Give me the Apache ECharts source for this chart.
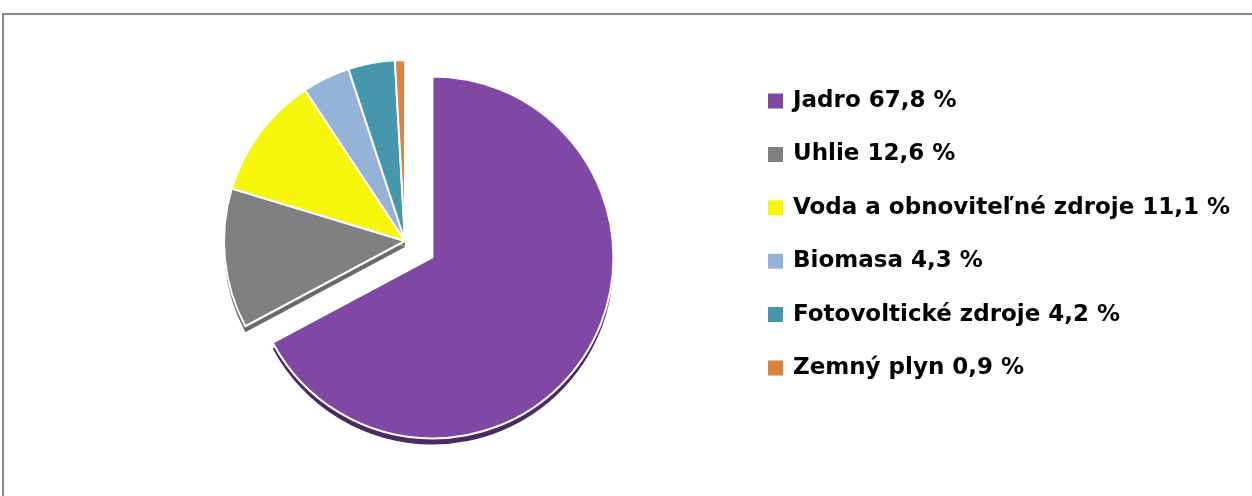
<!DOCTYPE html>
<html>
<head>
<meta charset="utf-8">
<script src="https://cdn.jsdelivr.net/npm/echarts@6/dist/echarts.min.js"></script>
<style>
  html, body { margin: 0; padding: 0; background: #fff; }
  #chart { width: 1252px; height: 496px; }
</style>
</head>
<body>
<div id="chart"></div>
<script>
const categories = ['Jadro', 'Uhlie', 'Voda a obnoviteľné zdroje', 'Biomasa', 'Fotovoltické zdroje', 'Zemný plyn'];
const shares = [67.8, 12.6, 11.1, 4.3, 4.2, 0.9];
const topColors = ['#7f48a5', '#808080', '#f6f60b', '#95b2d7', '#4597ae', '#db833f'];
const sideColors = ['#4b2a63', '#6a6a6a', '#9c9c00', '#3f4a5a', '#2c5f6e', '#8a4f24'];

const fmt = (v) => v.toFixed(1).replace('.', ',') + ' %';
const labels = categories.map((c, i) => c + ' ' + fmt(shares[i]));

const buildData = (colors) =>
  shares.map((v, i) => ({
    name: labels[i],
    value: v,
    selected: i === 0,
    itemStyle: { color: colors[i] },
  }));

const chart = echarts.init(document.getElementById('chart'));
const pieBase = {
  type: 'pie',
  radius: 181,
  startAngle: 90,
  clockwise: true,
  selectedMode: 'multiple',
  selectedOffset: 32,
  label: { show: false },
  labelLine: { show: false },
  animation: false,
  emphasis: { disabled: true },
};

chart.setOption({
  graphic: [
    {
      type: 'rect',
      shape: { x: 3, y: 14, width: 1400, height: 700 },
      style: { fill: 'none', stroke: '#888', lineWidth: 2 },
      silent: true,
    },
  ],
  legend: {
    orient: 'vertical',
    left: 766,
    top: 89,
    padding: 0,
    icon: 'rect',
    itemWidth: 17,
    itemHeight: 17,
    itemGap: 29.4,
    data: labels,
    selectedMode: false,
    textStyle: {
      fontFamily: 'DejaVu Sans',
      fontWeight: 'bold',
      fontSize: 23,
      lineHeight: 24,
      color: '#000',
      padding: [0, 0, 0, 4],
    },
  },
  series: [
    {
      ...pieBase,
      name: 'main',
      z: 3,
      center: [405, 241],
      itemStyle: { borderColor: '#fff', borderWidth: 2 },
      data: buildData(topColors),
    },
    {
      ...pieBase,
      name: 'depth',
      z: 2,
      silent: true,
      center: [405, 247],
      data: buildData(sideColors).map((d) => ({ ...d, name: 'side ' + d.name })),
    },
  ],
});
</script>
</body>
</html>
